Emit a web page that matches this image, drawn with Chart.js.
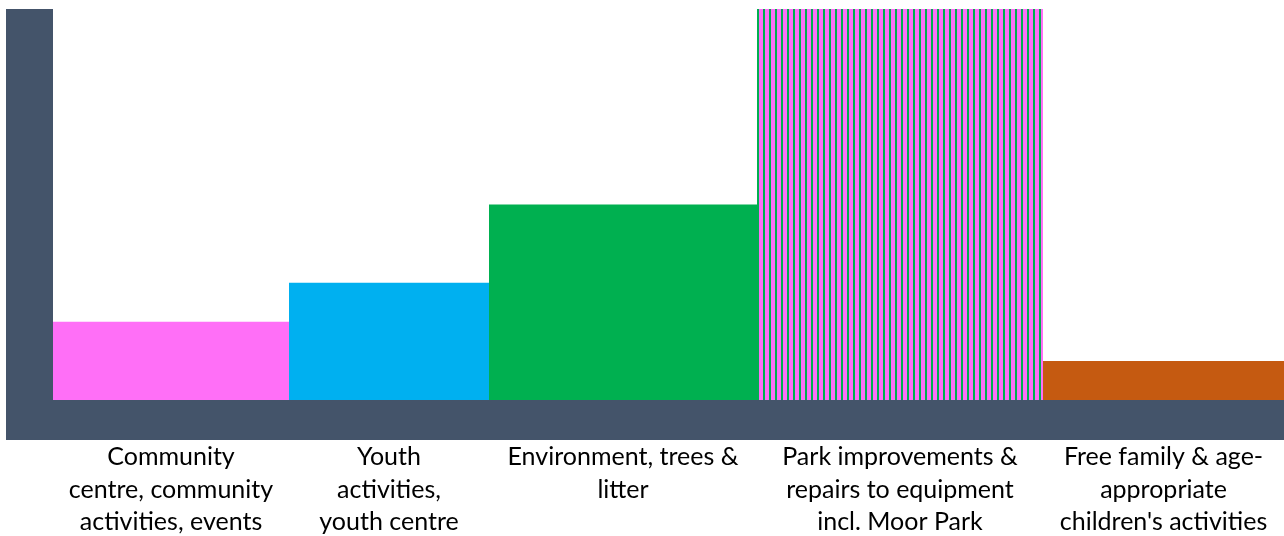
<!DOCTYPE html>
<html>
<head>
<meta charset="utf-8">
<script src="https://cdn.jsdelivr.net/npm/chart.js@4/dist/chart.umd.min.js"></script>
<style>
  html, body { margin: 0; padding: 0; background: #ffffff; }
  #wrap { width: 1284px; height: 536px; }
</style>
</head>
<body>
<div id="wrap"><canvas id="chart" width="1284" height="536"></canvas></div>
<script>
// Priority areas, their scores and the share of the width each column takes
const categories = [
  ["Community", "centre, community", "activities, events"],
  ["Youth", "activities,", "youth centre"],
  ["Environment, trees &", "litter"],
  ["Park improvements &", "repairs to equipment", "incl. Moor Park"],
  ["Free family & age-", "appropriate", "children's activities"]
];
const scores = [2, 3, 5, 10, 1];
const columnWidths = [236, 200, 268, 286, 241];
const scoreMax = 10;

const PINK = '#FF6FF7';
const BLUE = '#00B0F0';
const GREEN = '#00B050';
const ORANGE = '#C55A11';
const SLATE = '#44546A';

// Vertical pink/green stripes for the highlighted column
function stripePattern() {
  const c = document.createElement('canvas');
  c.width = 6; c.height = 1;
  const g = c.getContext('2d');
  g.fillStyle = PINK; g.fillRect(0, 0, 6, 1);
  g.fillStyle = GREEN; g.fillRect(0, 0, 2, 1);
  const p = document.getElementById('chart').getContext('2d').createPattern(c, 'repeat');
  p.setTransform(new DOMMatrix().translate(1, 0));
  return p;
}
const fills = [PINK, BLUE, GREEN, stripePattern(), ORANGE];

// Column edges and centres along the linear x axis
const edges = [0];
columnWidths.forEach(w => edges.push(edges[edges.length - 1] + w));
const centres = columnWidths.map((w, i) => edges[i] + w / 2);
const xMax = edges[edges.length - 1];

// Each column is a flat-topped filled area spanning its edges
const datasets = scores.map((v, i) => ({
  data: [{ x: edges[i], y: v }, { x: edges[i + 1], y: v }],
  backgroundColor: fills[i],
  borderWidth: 0,
  pointRadius: 0,
  fill: 'origin',
  tension: 0
}));

// Thick slate bands along the left and bottom axes
const axisBands = {
  id: 'axisBands',
  afterDatasetsDraw(chart) {
    const { ctx, chartArea, scales } = chart;
    const left = scales.y.left;
    const band = 40;
    ctx.save();
    ctx.fillStyle = SLATE;
    ctx.fillRect(left, chartArea.top, chartArea.left - left, chartArea.bottom - chartArea.top + band);
    ctx.fillRect(left, chartArea.bottom, chartArea.right - left, band);
    ctx.restore();
  }
};

new Chart(document.getElementById('chart'), {
  type: 'line',
  data: { datasets },
  plugins: [axisBands],
  options: {
    responsive: false,
    animation: false,
    events: [],
    layout: { padding: { left: 6, top: 9, right: 0, bottom: 0 } },
    plugins: { legend: { display: false }, tooltip: { enabled: false } },
    scales: {
      x: {
        type: 'linear',
        min: 0,
        max: xMax,
        grid: { display: false },
        border: { display: false },
        afterBuildTicks(scale) { scale.ticks = centres.map(v => ({ value: v })); },
        afterFit(scale) {
          scale.height = 136;
          scale.paddingLeft = 0;
          scale.paddingRight = 0;
        },
        ticks: {
          autoSkip: false,
          maxRotation: 0,
          minRotation: 0,
          padding: 33,
          color: '#000000',
          font: { family: 'Lato', size: 25, lineHeight: '32.5px' },
          callback: (value, index) => categories[index]
        }
      },
      y: {
        min: 0,
        max: scoreMax,
        grid: { display: false },
        border: { display: false },
        ticks: { display: false },
        afterFit(scale) { scale.width = 47; }
      }
    }
  }
});
</script>
</body>
</html>
